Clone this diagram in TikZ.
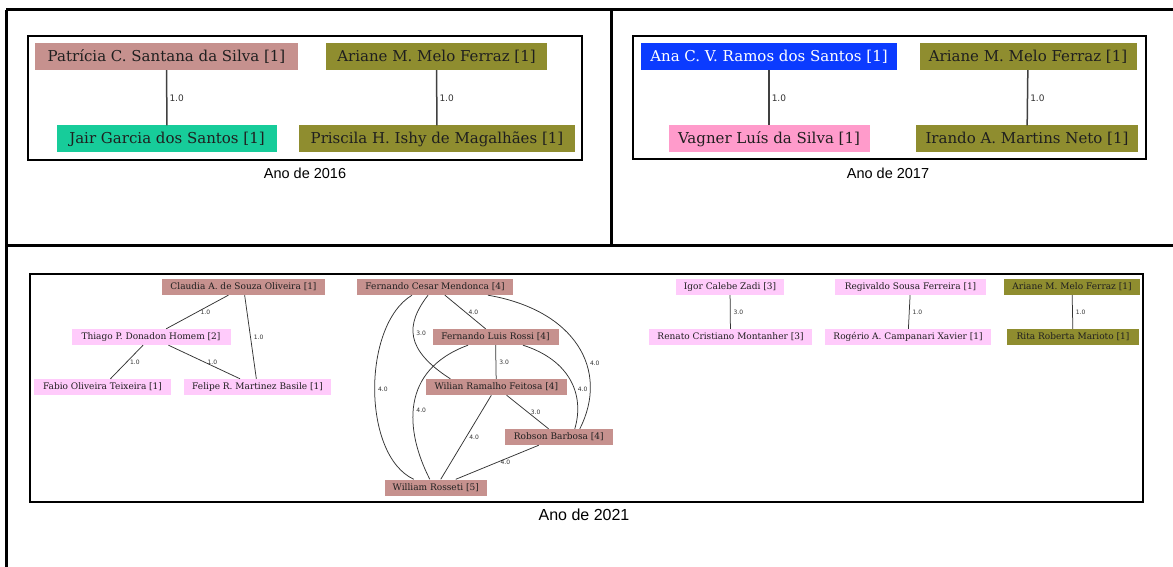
\documentclass[tikz,border=0pt]{standalone}
\usepackage{fontspec}
\setmainfont{DejaVu Serif}
\newfontfamily\labelfont{DejaVu Sans}
\newfontfamily\yearfont{Liberation Sans}
\definecolor{cRosy}{HTML}{C6918E}
\definecolor{cOlive}{HTML}{8F8D2F}
\definecolor{cTurq}{HTML}{17CC9A}
\definecolor{cBlue}{HTML}{0B3BFF}
\definecolor{cPink}{HTML}{FF9BCB}
\definecolor{cLilac}{HTML}{FFCBFB}
\tikzset{
  bigbox/.style={inner sep=0pt, minimum height=27pt, text=black!88,
    font=\fontsize{15}{17}\selectfont},
  smallbox/.style={inner sep=0pt, minimum height=16pt, text=black!88,
    font=\fontsize{9}{11}\selectfont},
  tie/.style={draw=black!75, line width=1.5pt},
  ties/.style={draw=black!80, line width=0.75pt},
  wt/.style={right, inner sep=2pt, text=black!80, font=\labelfont\fontsize{9}{10}\selectfont},
  wts/.style={right, inner sep=3pt, text=black!80, font=\labelfont\fontsize{6}{7}\selectfont},
  frame/.style={line width=3pt},
  graphbox/.style={line width=2.5pt},
  yearlabel/.style={font=\yearfont\fontsize{14.5}{16}\selectfont}
}
\begin{document}
\begin{tikzpicture}[x=1pt, y=-1pt]
    \useasboundingbox[fill=white] (0,0) rectangle (1173,567);
    % panel frame
    \draw[frame] (6,10) -- (1173,10);
    \draw[frame] (6,10) -- (6,567);
    \draw[frame] (611,10) -- (611,245);
    \draw[frame] (6,245) -- (1173,245);

    % 2016
    \draw[graphbox] (28,36) rectangle (582,160);
    \node[bigbox, fill=cRosy, minimum width=263pt] (pat) at (166.5,56.5) {Patrícia C. Santana da Silva [1]};
    \node[bigbox, fill=cOlive, minimum width=221pt] (ari16) at (436.5,56.5) {Ariane M. Melo Ferraz [1]};
    \node[bigbox, fill=cTurq, minimum width=220pt] (jair) at (167,139) {Jair Garcia dos Santos [1]};
    \node[bigbox, fill=cOlive, minimum width=276pt] (pri) at (437,139) {Priscila H. Ishy de Magalhães [1]};
    \draw[tie] (pat) -- (jair) node[midway, wt] {1.0};
    \draw[tie] (ari16) -- (pri) node[midway, wt] {1.0};
    \node[yearlabel] (y16) at (305,173) {Ano de 2016};

    % 2017
    \draw[graphbox] (633,36) rectangle (1146,159);
    \node[bigbox, fill=cBlue, text=white, minimum width=256pt] (ana) at (769,56.5) {Ana C. V. Ramos dos Santos [1]};
    \node[bigbox, fill=cOlive, minimum width=217pt] (ari17) at (1028,56.5) {Ariane M. Melo Ferraz [1]};
    \node[bigbox, fill=cPink, minimum width=201pt] (vag) at (769,139) {Vagner Luís da Silva [1]};
    \node[bigbox, fill=cOlive, minimum width=222pt] (ira) at (1027,139) {Irando A. Martins Neto [1]};
    \draw[tie] (ana) -- (vag) node[midway, wt] {1.0};
    \draw[tie] (ari17) -- (ira) node[midway, wt] {1.0};
    \node[yearlabel] (y17) at (888,173) {Ano de 2017};

    % 2021
    \draw[graphbox] (30,274) rectangle (1143,502);
    \node[smallbox, fill=cRosy, minimum width=163pt] (cla) at (243.5,287) {Claudia A. de Souza Oliveira [1]};
    \node[smallbox, fill=cLilac, minimum width=159pt] (thi) at (151,337) {Thiago P. Donadon Homem [2]};
    \node[smallbox, fill=cLilac, minimum width=137pt] (fab) at (102.5,387) {Fabio Oliveira Teixeira [1]};
    \node[smallbox, fill=cLilac, minimum width=147pt] (fel) at (257.5,387) {Felipe R. Martinez Basile [1]};
    \draw[ties] (cla) -- (thi) node[midway, wts] {1.0};
    \draw[ties] (cla) -- (fel) node[midway, wts] {1.0};
    \draw[ties] (thi) -- (fab) node[midway, wts] {1.0};
    \draw[ties] (thi) -- (fel) node[midway, wts] {1.0};

    \node[smallbox, fill=cRosy, minimum width=156pt] (fcm) at (435,287) {Fernando Cesar Mendonca [4]};
    \node[smallbox, fill=cRosy, minimum width=126pt] (flr) at (495.5,337) {Fernando Luis Rossi [4]};
    \node[smallbox, fill=cRosy, minimum width=141pt] (wrf) at (496.3,387) {Wilian Ramalho Feitosa [4]};
    \node[smallbox, fill=cRosy, minimum width=108pt] (rob) at (558.8,437) {Robson Barbosa [4]};
    \node[smallbox, fill=cRosy, minimum width=102pt] (wro) at (435.8,487.5) {William Rosseti [5]};
    \draw[ties] (fcm) -- (flr) node[midway, wts] {4.0};
    \draw[ties] ([xshift=-7pt]fcm.south) .. controls +(-23,30) and +(-45,-29) .. ([xshift=-46pt]wrf.north)
        node[pos=0.45, wts] {3.0};
    \draw[ties] ([xshift=-23pt]fcm.south) .. controls +(-50,30) and +(-52,-24) .. ([xshift=-22pt]wro.north)
        node[pos=0.5, wts] {4.0};
    \draw[ties] ([xshift=53pt]fcm.south) .. controls +(87,15) and +(30,-59) .. ([xshift=21pt]rob.north)
        node[pos=0.62, wts] {4.0};
    \draw[ties] (flr) -- (wrf) node[midway, wts] {3.0};
    \draw[ties] ([xshift=27.5pt]flr.south) .. controls +(47,15) and +(10,-34) .. ([xshift=16pt]rob.north)
        node[pos=0.6, wts] {4.0};
    \draw[ties] ([xshift=-27.5pt]flr.south) .. controls +(-68,25) and +(-25,-49) .. ([xshift=-6pt]wro.north)
        node[pos=0.55, wts] {4.0};
    \draw[ties] (wrf) -- (rob) node[midway, wts] {3.0};
    \draw[ties] (wrf) -- (wro) node[midway, wts] {4.0};
    \draw[ties] (rob) -- (wro) node[midway, wts] {4.0};

    \node[smallbox, fill=cLilac, minimum width=108pt] (igo) at (730,287) {Igor Calebe Zadi [3]};
    \node[smallbox, fill=cLilac, minimum width=163pt] (ren) at (730.5,337) {Renato Cristiano Montanher [3]};
    \node[smallbox, fill=cLilac, minimum width=151pt] (reg) at (910.5,287) {Regivaldo Sousa Ferreira [1]};
    \node[smallbox, fill=cLilac, minimum width=166pt] (rog) at (908,337) {Rogério A. Campanari Xavier [1]};
    \node[smallbox, fill=cOlive, minimum width=136pt] (ari21) at (1072,287) {Ariane M. Melo Ferraz [1]};
    \node[smallbox, fill=cOlive, minimum width=132pt] (rit) at (1073,337) {Rita Roberta Marioto [1]};
    \draw[ties] (igo) -- (ren) node[midway, wts] {3.0};
    \draw[ties] (reg) -- (rog) node[midway, wts] {1.0};
    \draw[ties] (ari21) -- (rit) node[midway, wts] {1.0};
    \node[yearlabel, font=\yearfont\fontsize{16}{18}\selectfont] (y21) at (584,515) {Ano de 2021};
\end{tikzpicture}
\end{document}
